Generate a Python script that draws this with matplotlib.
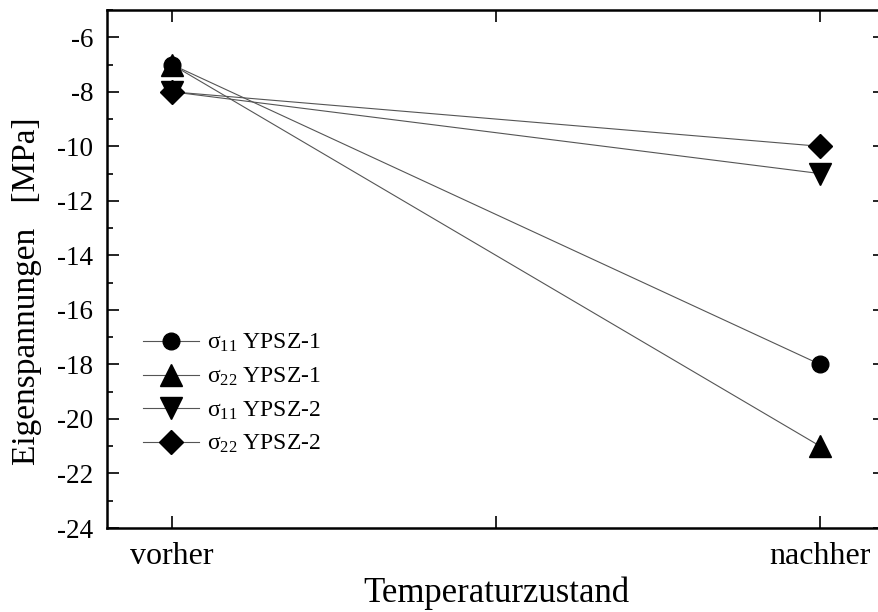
import numpy as np
import matplotlib.pyplot as plt
from matplotlib.ticker import MultipleLocator

plt.rcParams['font.family'] = ['Liberation Serif', 'DejaVu Serif']
plt.rcParams['mathtext.fontset'] = 'custom'
plt.rcParams['mathtext.rm'] = 'Liberation Serif'
plt.rcParams['mathtext.it'] = 'Liberation Serif'
plt.rcParams['axes.unicode_minus'] = False

# categories and values (MPa)
zustand = ['vorher', 'nachher']
s11_ypsz1 = [-7, -18]
s22_ypsz1 = [-7, -21]
s11_ypsz2 = [-8, -11]
s22_ypsz2 = [-8, -10]

series = [
    (s11_ypsz1, 'o', 12, r'$\sigma_{11}$ YPSZ-1'),
    (s22_ypsz1, '^', 16, r'$\sigma_{22}$ YPSZ-1'),
    (s11_ypsz2, 'v', 16, r'$\sigma_{11}$ YPSZ-2'),
    (s22_ypsz2, 'D', 12, r'$\sigma_{22}$ YPSZ-2'),
]

fig = plt.figure(figsize=(8.79, 6.12), dpi=100)
ax = fig.add_axes([107/879, 1-528/612, (885-107)/879, (528-10)/612])

x = np.arange(len(zustand))
for vals, m, ms, lab in series:
    ax.plot(x, vals, color='#555555', lw=0.8, marker=m, ms=ms,
            mfc='black', mec='black', label=lab)

ax.set_xlim(-0.1, 1.1)
ax.set_ylim(-24, -5)
ax.set_xticks([0, 0.5, 1])
ax.set_xticklabels(['vorher', '', 'nachher'])
ax.yaxis.set_major_locator(MultipleLocator(2))
ax.yaxis.set_minor_locator(MultipleLocator(1))
ax.tick_params(which='both', direction='in', top=True, right=True, width=1.2)
ax.tick_params(which='major', length=8.5, labelsize=19.5, pad=10)
ax.tick_params(which='minor', length=4.5)
ax.tick_params(axis='x', labelsize=23, pad=10)
for s in ax.spines.values():
    s.set_linewidth(1.8)
ax.spines['right'].set_visible(False)

ax.set_ylabel('Eigenspannungen   [MPa]', fontsize=24)
ax.yaxis.set_label_coords(-0.084, 0.457)
ax.set_xlabel('Temperaturzustand', fontsize=25, labelpad=4)

ax.legend(loc='upper left', bbox_to_anchor=(0.046, 0.378), frameon=False,
          fontsize=17, handlelength=2.4, handletextpad=0.3, labelspacing=0.48,
          borderaxespad=0, borderpad=0)

fig.savefig('out.png', dpi=100)
